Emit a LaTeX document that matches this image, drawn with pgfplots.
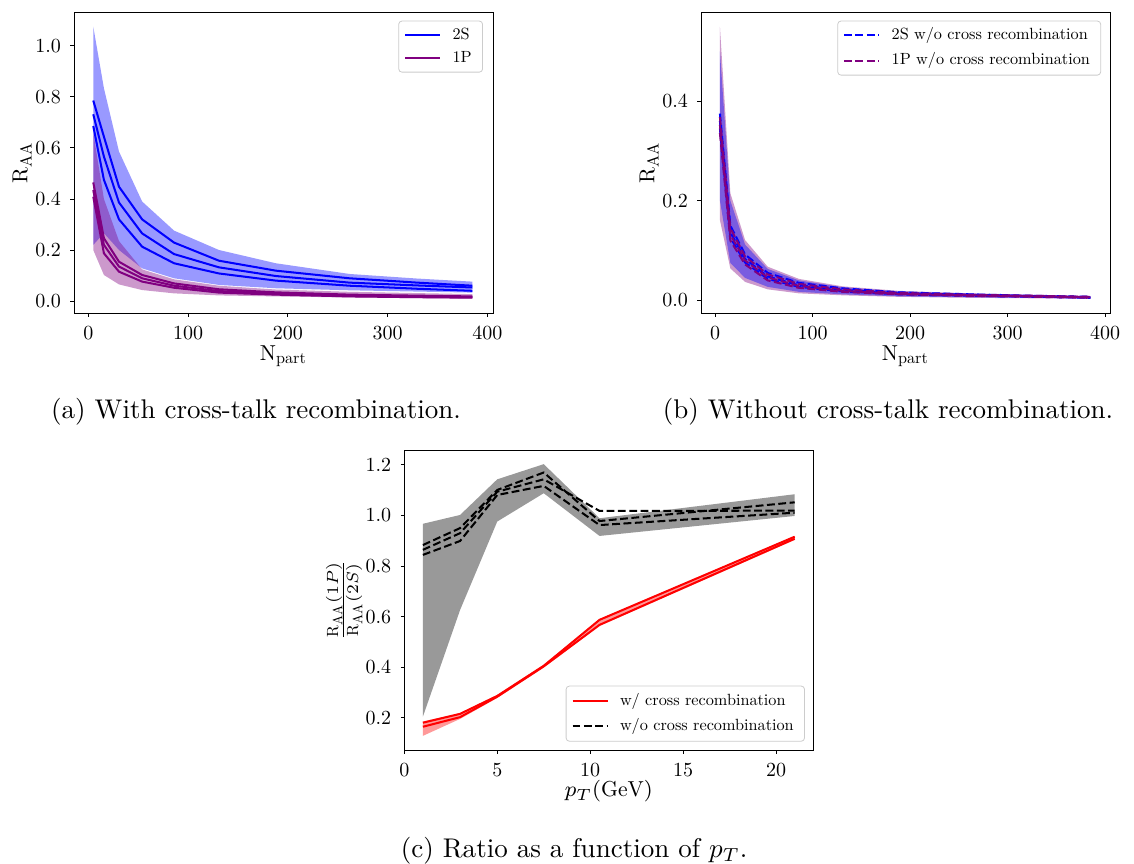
\documentclass[border=0pt]{standalone}
\usepackage{fontspec}
\setmainfont{lmroman10-regular}[Extension=.otf, ItalicFont=lmroman10-italic, BoldFont=lmroman10-bold]
\usepackage{pgfplots}
\pgfplotsset{compat=1.18}
\definecolor{mplpurple}{RGB}{128,0,128}
\definecolor{mplblue}{RGB}{0,0,255}

\pgfplotsset{
  rs/.style={
    scale only axis,
    axis line style={line width=0.35pt},
    tick pos=left, tick align=outside,
    major tick length=1.3pt,
    every tick/.append style={black, line width=0.35pt},
    /pgf/number format/assume math mode=true,
    tick label style={font=\fontsize{7.4}{8}\selectfont},
    label style={font=\fontsize{8}{9}\selectfont},
    yticklabel style={/pgf/number format/fixed, /pgf/number format/fixed zerofill, /pgf/number format/precision=1},
    legend style={font=\fontsize{6}{7}\selectfont, draw=black!20, line width=0.3pt,
      rounded corners=1.2pt, fill=white, fill opacity=0.8, text opacity=1,
      inner xsep=2pt, inner ysep=1.1pt, row sep=0.6pt,
      nodes={inner xsep=2pt, inner ysep=1.2pt, text height=4.5pt, text depth=1.5pt},
      /tikz/every odd column/.append style={column sep=2.2pt},
      cells={anchor=west}},
    legend image code/.code={\draw[#1] (0pt,0pt) -- (13pt,0pt);},
  },
  band/.style={draw=none, fill=#1, fill opacity=0.4, forget plot},
  ln/.style={#1, line width=0.75pt},
  dsh/.style={#1, line width=0.75pt, dash pattern=on 2.9pt off 1.3pt},
}

\begin{document}
\begin{tikzpicture}
\useasboundingbox (0,0) rectangle (419.58pt,319.31pt);

% (a) with cross-talk recombination
\begin{axis}[rs,
  at={(27.38pt,203.5pt)}, anchor=south west,
  width=155.03pt, height=111.37pt,
  xmin=-14.3, xmax=405.7, ymin=-0.047, ymax=1.133,
  xtick={0,100,200,300,400}, ytick={0,0.2,0.4,0.6,0.8,1.0},
  xlabel={$\mathrm{N_{part}}$}, ylabel={$\mathrm{R_{AA}}$},
  xlabel style={at={(axis description cs:0.5,-0.143)}, anchor=center},
  ylabel style={at={(axis description cs:-0.124,0.5)}, anchor=center},
  legend style={at={(1,1)}, xshift=-3.7pt, yshift=-3.2pt, anchor=north east,
    inner ysep=0.95pt, row sep=0.2pt},
]
\addplot[band=mplblue] coordinates {
  (5,1.076) (15.7,0.834) (30.8,0.586) (54,0.390) (86,0.276) (131,0.200) (188,0.148) (262,0.106) (330,0.088) (385,0.076)
  (385,0.033) (330,0.037) (262,0.042) (188,0.050) (131,0.063) (86,0.089) (54,0.128) (30.8,0.200) (15.7,0.266) (5,0.220)};
\addplot[band=mplpurple] coordinates {
  (5,0.660) (15.7,0.400) (30.8,0.235) (54,0.124) (86,0.085) (131,0.060) (188,0.045) (262,0.036) (330,0.031) (385,0.027)
  (385,0.010) (330,0.011) (262,0.014) (188,0.018) (131,0.022) (86,0.030) (54,0.043) (30.8,0.065) (15.7,0.102) (5,0.200)};
\addplot[ln=mplblue] coordinates {
  (5,0.786) (15.7,0.644) (30.8,0.448) (54,0.320) (86,0.229) (131,0.158) (188,0.119) (262,0.089) (330,0.072) (385,0.060)};
\addlegendentry{2S}
\addplot[ln=mplblue, forget plot] coordinates {
  (5,0.732) (15.7,0.566) (30.8,0.386) (54,0.265) (86,0.184) (131,0.132) (188,0.098) (262,0.072) (330,0.061) (385,0.053)};
\addplot[ln=mplblue, forget plot] coordinates {
  (5,0.686) (15.7,0.475) (30.8,0.320) (54,0.213) (86,0.148) (131,0.108) (188,0.080) (262,0.060) (330,0.048) (385,0.040)};
\addplot[ln=mplpurple] coordinates {
  (5,0.465) (15.7,0.246) (30.8,0.154) (54,0.102) (86,0.069) (131,0.046) (188,0.034) (262,0.025) (330,0.021) (385,0.018)};
\addlegendentry{1P}
\addplot[ln=mplpurple, forget plot] coordinates {
  (5,0.435) (15.7,0.220) (30.8,0.135) (54,0.089) (86,0.060) (131,0.039) (188,0.029) (262,0.021) (330,0.018) (385,0.015)};
\addplot[ln=mplpurple, forget plot] coordinates {
  (5,0.409) (15.7,0.187) (30.8,0.115) (54,0.076) (86,0.052) (131,0.033) (188,0.025) (262,0.018) (330,0.015) (385,0.013)};
\end{axis}

% (b) without cross-talk recombination
\begin{axis}[rs,
  at={(259.37pt,203.5pt)}, anchor=south west,
  width=151.33pt, height=111.37pt,
  xmin=-14.4, xmax=405.1, ymin=-0.0255, ymax=0.579,
  xtick={0,100,200,300,400}, ytick={0,0.2,0.4},
  xlabel={$\mathrm{N_{part}}$}, ylabel={$\mathrm{R_{AA}}$},
  xlabel style={at={(axis description cs:0.5,-0.143)}, anchor=center},
  ylabel style={at={(axis description cs:-0.127,0.5)}, anchor=center},
  legend style={at={(1,1)}, xshift=-3.3pt, yshift=-3.2pt, anchor=north east,
    inner ysep=1.05pt, row sep=1.1pt},
]
\addplot[band=mplpurple] coordinates {
  (5,0.549) (15.7,0.215) (30.8,0.121) (54,0.0675) (86,0.043) (131,0.028) (188,0.019) (262,0.014) (330,0.011) (385,0.009)
  (385,0.003) (330,0.004) (262,0.005) (188,0.007) (131,0.010) (86,0.014) (54,0.022) (30.8,0.037) (15.7,0.064) (5,0.161)};
\addplot[band=mplblue] coordinates {
  (5,0.500) (15.7,0.200) (30.8,0.112) (54,0.063) (86,0.040) (131,0.026) (188,0.018) (262,0.013) (330,0.010) (385,0.008)
  (385,0.004) (330,0.005) (262,0.006) (188,0.008) (131,0.012) (86,0.017) (54,0.027) (30.8,0.045) (15.7,0.075) (5,0.200)};
\addplot[dsh=mplblue] coordinates {
  (5,0.375) (15.7,0.150) (30.8,0.092) (54,0.055) (86,0.035) (131,0.024) (188,0.016) (262,0.012) (330,0.009) (385,0.007)};
\addlegendentry{2S w/o cross recombination}
\addplot[dsh=mplblue, forget plot] coordinates {
  (5,0.360) (15.7,0.137) (30.8,0.083) (54,0.048) (86,0.030) (131,0.021) (188,0.014) (262,0.011) (330,0.008) (385,0.006)};
\addplot[dsh=mplblue, forget plot] coordinates {
  (5,0.345) (15.7,0.126) (30.8,0.076) (54,0.043) (86,0.027) (131,0.018) (188,0.012) (262,0.009) (330,0.007) (385,0.005)};
\addplot[dsh=mplpurple] coordinates {
  (5,0.368) (15.7,0.145) (30.8,0.088) (54,0.052) (86,0.033) (131,0.022) (188,0.015) (262,0.011) (330,0.009) (385,0.007)};
\addlegendentry{1P w/o cross recombination}
\addplot[dsh=mplpurple, forget plot] coordinates {
  (5,0.352) (15.7,0.132) (30.8,0.080) (54,0.046) (86,0.029) (131,0.019) (188,0.013) (262,0.010) (330,0.008) (385,0.006)};
\addplot[dsh=mplpurple, forget plot] coordinates {
  (5,0.336) (15.7,0.120) (30.8,0.072) (54,0.040) (86,0.025) (131,0.017) (188,0.012) (262,0.009) (330,0.007) (385,0.005)};
\end{axis}

% (c) ratio vs pT
\begin{axis}[rs,
  at={(149.59pt,41.81pt)}, anchor=south west,
  width=151.33pt, height=111pt,
  xmin=0, xmax=22, ymin=0.072, ymax=1.259,
  xtick={0,5,10,15,20}, ytick={0.2,0.4,0.6,0.8,1.0,1.2},
  xlabel={$p_T(\mathrm{GeV})$},
  ylabel={$\frac{\mathrm{R_{AA}}(1P)}{\mathrm{R_{AA}}(2S)}$},
  xlabel style={at={(axis description cs:0.5,-0.137)}, anchor=center},
  ylabel style={at={(axis description cs:-0.147,0.5)}, anchor=center, font=\fontsize{9}{10}\selectfont},
  legend style={at={(1,0)}, xshift=-3.1pt, yshift=3.1pt, anchor=south east,
    inner ysep=1.45pt, row sep=0.7pt},
]
\addplot[draw=none, fill=black!40, forget plot] coordinates {
  (1,0.967) (3,1.002) (5,1.143) (7.5,1.203) (10.5,0.989) (21,1.084)
  (21,0.998) (10.5,0.919) (7.5,1.088) (5,0.976) (3,0.626) (1,0.204)};
\addplot[band=red] coordinates {
  (1,0.185) (3,0.218) (5,0.290) (7.5,0.410) (10.5,0.590) (21,0.918)
  (21,0.903) (10.5,0.563) (7.5,0.398) (5,0.278) (3,0.195) (1,0.128)};
\addplot[ln=red] coordinates {(1,0.180) (3,0.215) (5,0.286) (7.5,0.405) (10.5,0.587) (21,0.916)};
\addlegendentry{w/ cross recombination}
\addplot[ln=red, forget plot] coordinates {(1,0.164) (3,0.202) (5,0.283) (7.5,0.403) (10.5,0.567) (21,0.908)};
\addplot[dsh=black] coordinates {(1,0.883) (3,0.950) (5,1.101) (7.5,1.170) (10.5,0.978) (21,1.052)};
\addlegendentry{w/o cross recombination}
\addplot[dsh=black, forget plot] coordinates {(1,0.864) (3,0.930) (5,1.094) (7.5,1.143) (10.5,1.018) (21,1.019)};
\addplot[dsh=black, forget plot] coordinates {(1,0.844) (3,0.899) (5,1.081) (7.5,1.117) (10.5,0.962) (21,1.011)};
\end{axis}

\node[anchor=base] at (94.72pt,164.65pt) {(a) With cross-talk recombination.};
\node[anchor=base] at (328.56pt,164.65pt) {(b) Without cross-talk recombination.};
\node[anchor=base] at (212.4pt,2.22pt) {(c) Ratio as a function of $p_T$.};
\end{tikzpicture}
\end{document}
